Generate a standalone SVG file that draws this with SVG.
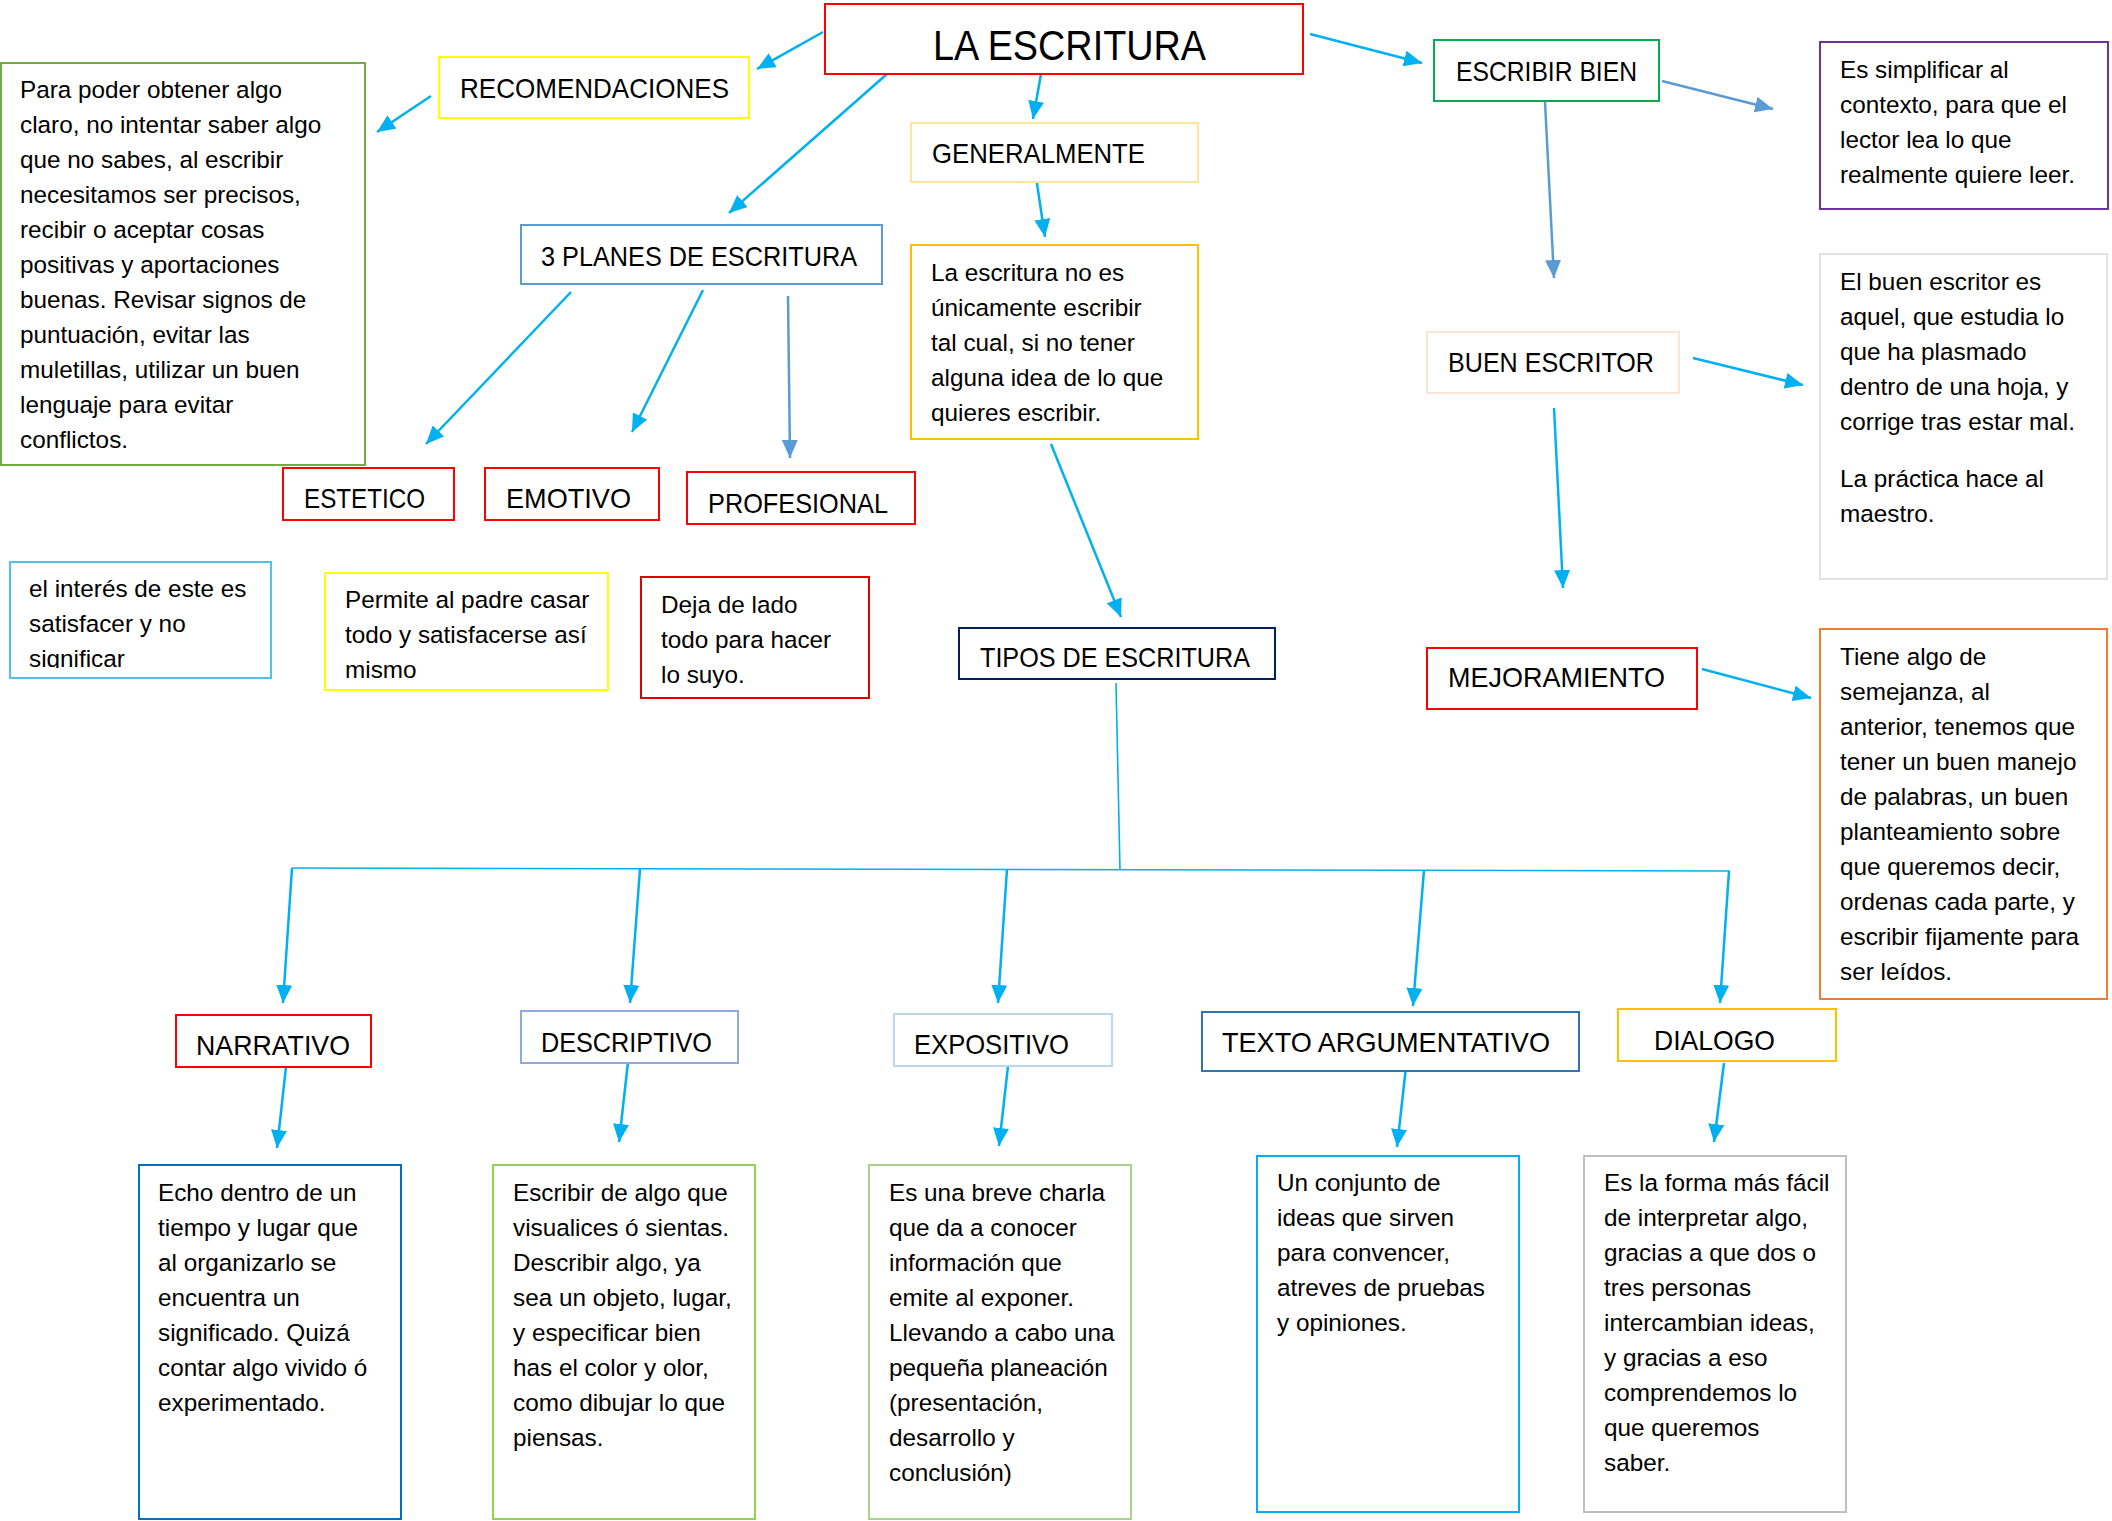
<svg xmlns="http://www.w3.org/2000/svg" width="2112" height="1521" viewBox="0 0 2112 1521">
<style>
.bx{fill:#fff;stroke-width:2}
.lb{font-family:"Liberation Sans",Arial,sans-serif;font-size:28px;fill:#000}
.ttl{font-family:"Liberation Sans",Arial,sans-serif;font-size:43px;fill:#000}
.tx{font-family:"Liberation Sans",Arial,sans-serif;font-size:24.3px;fill:#000}
.c{fill:none;stroke:#00b0f0;stroke-width:2.5}
.c2{fill:none;stroke:#5b9bd5;stroke-width:2.5}
.t{fill:none;stroke:#00b0f0;stroke-width:1.6}
</style>
<defs>
<marker id="a" markerUnits="userSpaceOnUse" markerWidth="20" markerHeight="16" refX="18" refY="8" orient="auto"><path d="M0,0 L18,8 L0,16 z" fill="#00b0f0"/></marker>
<marker id="b" markerUnits="userSpaceOnUse" markerWidth="20" markerHeight="16" refX="18" refY="8" orient="auto"><path d="M0,0 L18,8 L0,16 z" fill="#5b9bd5"/></marker>
<clipPath id="clipInt"><rect x="10" y="562" width="261" height="106"/></clipPath>
</defs>
<rect width="2112" height="1521" fill="#fff"/>

<g id="connectors">
<line class="c" x1="823" y1="32" x2="757" y2="69" marker-end="url(#a)"/>
<line class="c" x1="431" y1="96" x2="377" y2="132" marker-end="url(#a)"/>
<line class="c" x1="887" y1="74" x2="729" y2="213" marker-end="url(#a)"/>
<line class="c" x1="1041" y1="74" x2="1033" y2="119" marker-end="url(#a)"/>
<line class="c" x1="1036" y1="177" x2="1045" y2="237" marker-end="url(#a)"/>
<line class="c" x1="571" y1="292" x2="426" y2="444" marker-end="url(#a)"/>
<line class="c" x1="703" y1="290" x2="632" y2="432" marker-end="url(#a)"/>
<line class="c2" x1="788" y1="296" x2="790" y2="458" marker-end="url(#b)"/>
<line class="c" x1="1310" y1="34" x2="1422" y2="63" stroke-width="3" marker-end="url(#a)"/>
<line class="c2" x1="1662" y1="81" x2="1773" y2="109" stroke-width="3" marker-end="url(#b)"/>
<line class="c2" x1="1545" y1="102" x2="1554" y2="278" marker-end="url(#b)"/>
<line class="c" x1="1693" y1="358" x2="1803" y2="385" marker-end="url(#a)"/>
<line class="c" x1="1554" y1="408" x2="1563" y2="588" marker-end="url(#a)"/>
<line class="c" x1="1702" y1="669" x2="1811" y2="698" marker-end="url(#a)"/>
<line class="c" x1="1051" y1="444" x2="1121" y2="617" marker-end="url(#a)"/>
<line class="t" x1="1116" y1="683" x2="1120" y2="870"/>
<line class="t" x1="292" y1="868" x2="1730" y2="871"/>
<line class="c" x1="292" y1="868" x2="283" y2="1003" marker-end="url(#a)"/>
<line class="c" x1="640" y1="869" x2="630" y2="1003" marker-end="url(#a)"/>
<line class="c" x1="1007" y1="869" x2="998" y2="1003" marker-end="url(#a)"/>
<line class="c" x1="1424" y1="870" x2="1413" y2="1006" marker-end="url(#a)"/>
<line class="c" x1="1729" y1="871" x2="1720" y2="1003" marker-end="url(#a)"/>
<line class="c" x1="286" y1="1067" x2="277" y2="1148" marker-end="url(#a)"/>
<line class="c" x1="628" y1="1062" x2="619" y2="1142" marker-end="url(#a)"/>
<line class="c" x1="1008" y1="1066" x2="999" y2="1146" marker-end="url(#a)"/>
<line class="c" x1="1406" y1="1067" x2="1397" y2="1147" marker-end="url(#a)"/>
<line class="c" x1="1724" y1="1063" x2="1714" y2="1142" marker-end="url(#a)"/>
</g>

<g id="la-escritura"><rect class="bx" x="825" y="4" width="478" height="70" stroke="#ff0000"/>
<text class="ttl" x="933" y="60" textLength="273" lengthAdjust="spacingAndGlyphs">LA ESCRITURA</text></g>

<g id="recomendaciones"><rect class="bx" x="439" y="57" width="310" height="61" stroke="#ffff00"/>
<text class="lb" x="460" y="98" textLength="269" lengthAdjust="spacingAndGlyphs">RECOMENDACIONES</text></g>

<g id="recomendaciones-texto"><rect class="bx" x="1" y="63" width="364" height="402" stroke="#70ad47"/>
<text class="tx"><tspan x="20" y="98">Para poder obtener algo</tspan><tspan x="20" y="133">claro, no intentar saber algo</tspan><tspan x="20" y="168">que no sabes, al escribir</tspan><tspan x="20" y="203">necesitamos ser precisos,</tspan><tspan x="20" y="238">recibir o aceptar cosas</tspan><tspan x="20" y="273">positivas y aportaciones</tspan><tspan x="20" y="308">buenas. Revisar signos de</tspan><tspan x="20" y="343">puntuación, evitar las</tspan><tspan x="20" y="378">muletillas, utilizar un buen</tspan><tspan x="20" y="413">lenguaje para evitar</tspan><tspan x="20" y="448">conflictos.</tspan></text></g>

<g id="generalmente"><rect class="bx" x="911" y="123" width="287" height="59" stroke="#ffe699"/>
<text class="lb" x="932" y="163" textLength="213" lengthAdjust="spacingAndGlyphs">GENERALMENTE</text></g>

<g id="generalmente-texto"><rect class="bx" x="911" y="245" width="287" height="194" stroke="#ffc000"/>
<text class="tx"><tspan x="931" y="281">La escritura no es</tspan><tspan x="931" y="316">únicamente escribir</tspan><tspan x="931" y="351">tal cual, si no tener</tspan><tspan x="931" y="386">alguna idea de lo que</tspan><tspan x="931" y="421">quieres escribir.</tspan></text></g>

<g id="planes"><rect class="bx" x="521" y="225" width="361" height="59" stroke="#5b9bd5"/>
<text class="lb" x="541" y="266" textLength="316" lengthAdjust="spacingAndGlyphs">3 PLANES DE ESCRITURA</text></g>

<g id="estetico"><rect class="bx" x="283" y="468" width="171" height="52" stroke="#ff0000"/>
<text class="lb" x="304" y="508" textLength="121" lengthAdjust="spacingAndGlyphs">ESTETICO</text></g>
<g id="emotivo"><rect class="bx" x="485" y="468" width="174" height="52" stroke="#ff0000"/>
<text class="lb" x="506" y="508" textLength="125" lengthAdjust="spacingAndGlyphs">EMOTIVO</text></g>
<g id="profesional"><rect class="bx" x="687" y="472" width="228" height="52" stroke="#ff0000"/>
<text class="lb" x="708" y="513" textLength="180" lengthAdjust="spacingAndGlyphs">PROFESIONAL</text></g>

<g id="estetico-texto"><rect class="bx" x="10" y="562" width="261" height="116" stroke="#4fc1ee"/>
<text class="tx" clip-path="url(#clipInt)"><tspan x="29" y="597">el interés de este es</tspan><tspan x="29" y="632">satisfacer y no</tspan><tspan x="29" y="667">significar</tspan></text></g>
<g id="emotivo-texto"><rect class="bx" x="325" y="573" width="283" height="117" stroke="#ffff00"/>
<text class="tx"><tspan x="345" y="608">Permite al padre casar</tspan><tspan x="345" y="643">todo y satisfacerse así</tspan><tspan x="345" y="678">mismo</tspan></text></g>
<g id="profesional-texto"><rect class="bx" x="641" y="577" width="228" height="121" stroke="#e00000"/>
<text class="tx"><tspan x="661" y="613">Deja de lado</tspan><tspan x="661" y="648">todo para hacer</tspan><tspan x="661" y="683">lo suyo.</tspan></text></g>

<g id="tipos"><rect class="bx" x="959" y="628" width="316" height="51" stroke="#002060"/>
<text class="lb" x="980" y="667" textLength="270" lengthAdjust="spacingAndGlyphs">TIPOS DE ESCRITURA</text></g>

<g id="escribir-bien"><rect class="bx" x="1434" y="40" width="225" height="61" stroke="#00b050"/>
<text class="lb" x="1456" y="81" textLength="181" lengthAdjust="spacingAndGlyphs">ESCRIBIR BIEN</text></g>
<g id="escribir-bien-texto"><rect class="bx" x="1820" y="42" width="288" height="167" stroke="#7030a0"/>
<text class="tx"><tspan x="1840" y="78">Es simplificar al</tspan><tspan x="1840" y="113">contexto, para que el</tspan><tspan x="1840" y="148">lector lea lo que</tspan><tspan x="1840" y="183">realmente quiere leer.</tspan></text></g>

<g id="buen-escritor"><rect class="bx" x="1427" y="332" width="252" height="61" stroke="#fbe5d6"/>
<text class="lb" x="1448" y="372" textLength="206" lengthAdjust="spacingAndGlyphs">BUEN ESCRITOR</text></g>
<g id="buen-escritor-texto"><rect class="bx" x="1820" y="254" width="287" height="325" stroke="#e2e2e2"/>
<text class="tx"><tspan x="1840" y="290">El buen escritor es</tspan><tspan x="1840" y="325">aquel, que estudia lo</tspan><tspan x="1840" y="360">que ha plasmado</tspan><tspan x="1840" y="395">dentro de una hoja, y</tspan><tspan x="1840" y="430">corrige tras estar mal.</tspan><tspan x="1840" y="487">La práctica hace al</tspan><tspan x="1840" y="522">maestro.</tspan></text></g>

<g id="mejoramiento"><rect class="bx" x="1427" y="648" width="270" height="61" stroke="#ff0000"/>
<text class="lb" x="1448" y="687" textLength="217" lengthAdjust="spacingAndGlyphs">MEJORAMIENTO</text></g>
<g id="mejoramiento-texto"><rect class="bx" x="1820" y="629" width="287" height="370" stroke="#ed7d31"/>
<text class="tx"><tspan x="1840" y="665">Tiene algo de</tspan><tspan x="1840" y="700">semejanza, al</tspan><tspan x="1840" y="735">anterior, tenemos que</tspan><tspan x="1840" y="770">tener un buen manejo</tspan><tspan x="1840" y="805">de palabras, un buen</tspan><tspan x="1840" y="840">planteamiento sobre</tspan><tspan x="1840" y="875">que queremos decir,</tspan><tspan x="1840" y="910">ordenas cada parte, y</tspan><tspan x="1840" y="945">escribir fijamente para</tspan><tspan x="1840" y="980">ser leídos.</tspan></text></g>

<g id="narrativo"><rect class="bx" x="176" y="1015" width="195" height="52" stroke="#ff0000"/>
<text class="lb" x="196" y="1055" textLength="154" lengthAdjust="spacingAndGlyphs">NARRATIVO</text></g>
<g id="descriptivo"><rect class="bx" x="521" y="1011" width="217" height="52" stroke="#8faadc"/>
<text class="lb" x="541" y="1052" textLength="171" lengthAdjust="spacingAndGlyphs">DESCRIPTIVO</text></g>
<g id="expositivo"><rect class="bx" x="894" y="1014" width="218" height="52" stroke="#bdd7ee"/>
<text class="lb" x="914" y="1054" textLength="155" lengthAdjust="spacingAndGlyphs">EXPOSITIVO</text></g>
<g id="argumentativo"><rect class="bx" x="1202" y="1012" width="377" height="59" stroke="#2e75b6"/>
<text class="lb" x="1222" y="1052" textLength="328" lengthAdjust="spacingAndGlyphs">TEXTO ARGUMENTATIVO</text></g>
<g id="dialogo"><rect class="bx" x="1618" y="1009" width="218" height="52" stroke="#ffc000"/>
<text class="lb" x="1654" y="1050" textLength="121" lengthAdjust="spacingAndGlyphs">DIALOGO</text></g>

<g id="narrativo-texto"><rect class="bx" x="139" y="1165" width="262" height="354" stroke="#0070c0"/>
<text class="tx"><tspan x="158" y="1201">Echo dentro de un</tspan><tspan x="158" y="1236">tiempo y lugar que</tspan><tspan x="158" y="1271">al organizarlo se</tspan><tspan x="158" y="1306">encuentra un</tspan><tspan x="158" y="1341">significado. Quizá</tspan><tspan x="158" y="1376">contar algo vivido ó</tspan><tspan x="158" y="1411">experimentado.</tspan></text></g>
<g id="descriptivo-texto"><rect class="bx" x="493" y="1165" width="262" height="354" stroke="#92d050"/>
<text class="tx"><tspan x="513" y="1201">Escribir de algo que</tspan><tspan x="513" y="1236">visualices ó sientas.</tspan><tspan x="513" y="1271">Describir algo, ya</tspan><tspan x="513" y="1306">sea un objeto, lugar,</tspan><tspan x="513" y="1341">y especificar bien</tspan><tspan x="513" y="1376">has el color y olor,</tspan><tspan x="513" y="1411">como dibujar lo que</tspan><tspan x="513" y="1446">piensas.</tspan></text></g>
<g id="expositivo-texto"><rect class="bx" x="869" y="1165" width="262" height="354" stroke="#a9d18e"/>
<text class="tx"><tspan x="889" y="1201">Es una breve charla</tspan><tspan x="889" y="1236">que da a conocer</tspan><tspan x="889" y="1271">información que</tspan><tspan x="889" y="1306">emite al exponer.</tspan><tspan x="889" y="1341">Llevando a cabo una</tspan><tspan x="889" y="1376">pequeña planeación</tspan><tspan x="889" y="1411">(presentación,</tspan><tspan x="889" y="1446">desarrollo y</tspan><tspan x="889" y="1481">conclusión)</tspan></text></g>
<g id="argumentativo-texto"><rect class="bx" x="1257" y="1156" width="262" height="356" stroke="#00b0f0"/>
<text class="tx"><tspan x="1277" y="1191">Un conjunto de</tspan><tspan x="1277" y="1226">ideas que sirven</tspan><tspan x="1277" y="1261">para convencer,</tspan><tspan x="1277" y="1296">atreves de pruebas</tspan><tspan x="1277" y="1331">y opiniones.</tspan></text></g>
<g id="dialogo-texto"><rect class="bx" x="1584" y="1156" width="262" height="356" stroke="#bfbfbf"/>
<text class="tx"><tspan x="1604" y="1191">Es la forma más fácil</tspan><tspan x="1604" y="1226">de interpretar algo,</tspan><tspan x="1604" y="1261">gracias a que dos o</tspan><tspan x="1604" y="1296">tres personas</tspan><tspan x="1604" y="1331">intercambian ideas,</tspan><tspan x="1604" y="1366">y gracias a eso</tspan><tspan x="1604" y="1401">comprendemos lo</tspan><tspan x="1604" y="1436">que queremos</tspan><tspan x="1604" y="1471">saber.</tspan></text></g>
</svg>
